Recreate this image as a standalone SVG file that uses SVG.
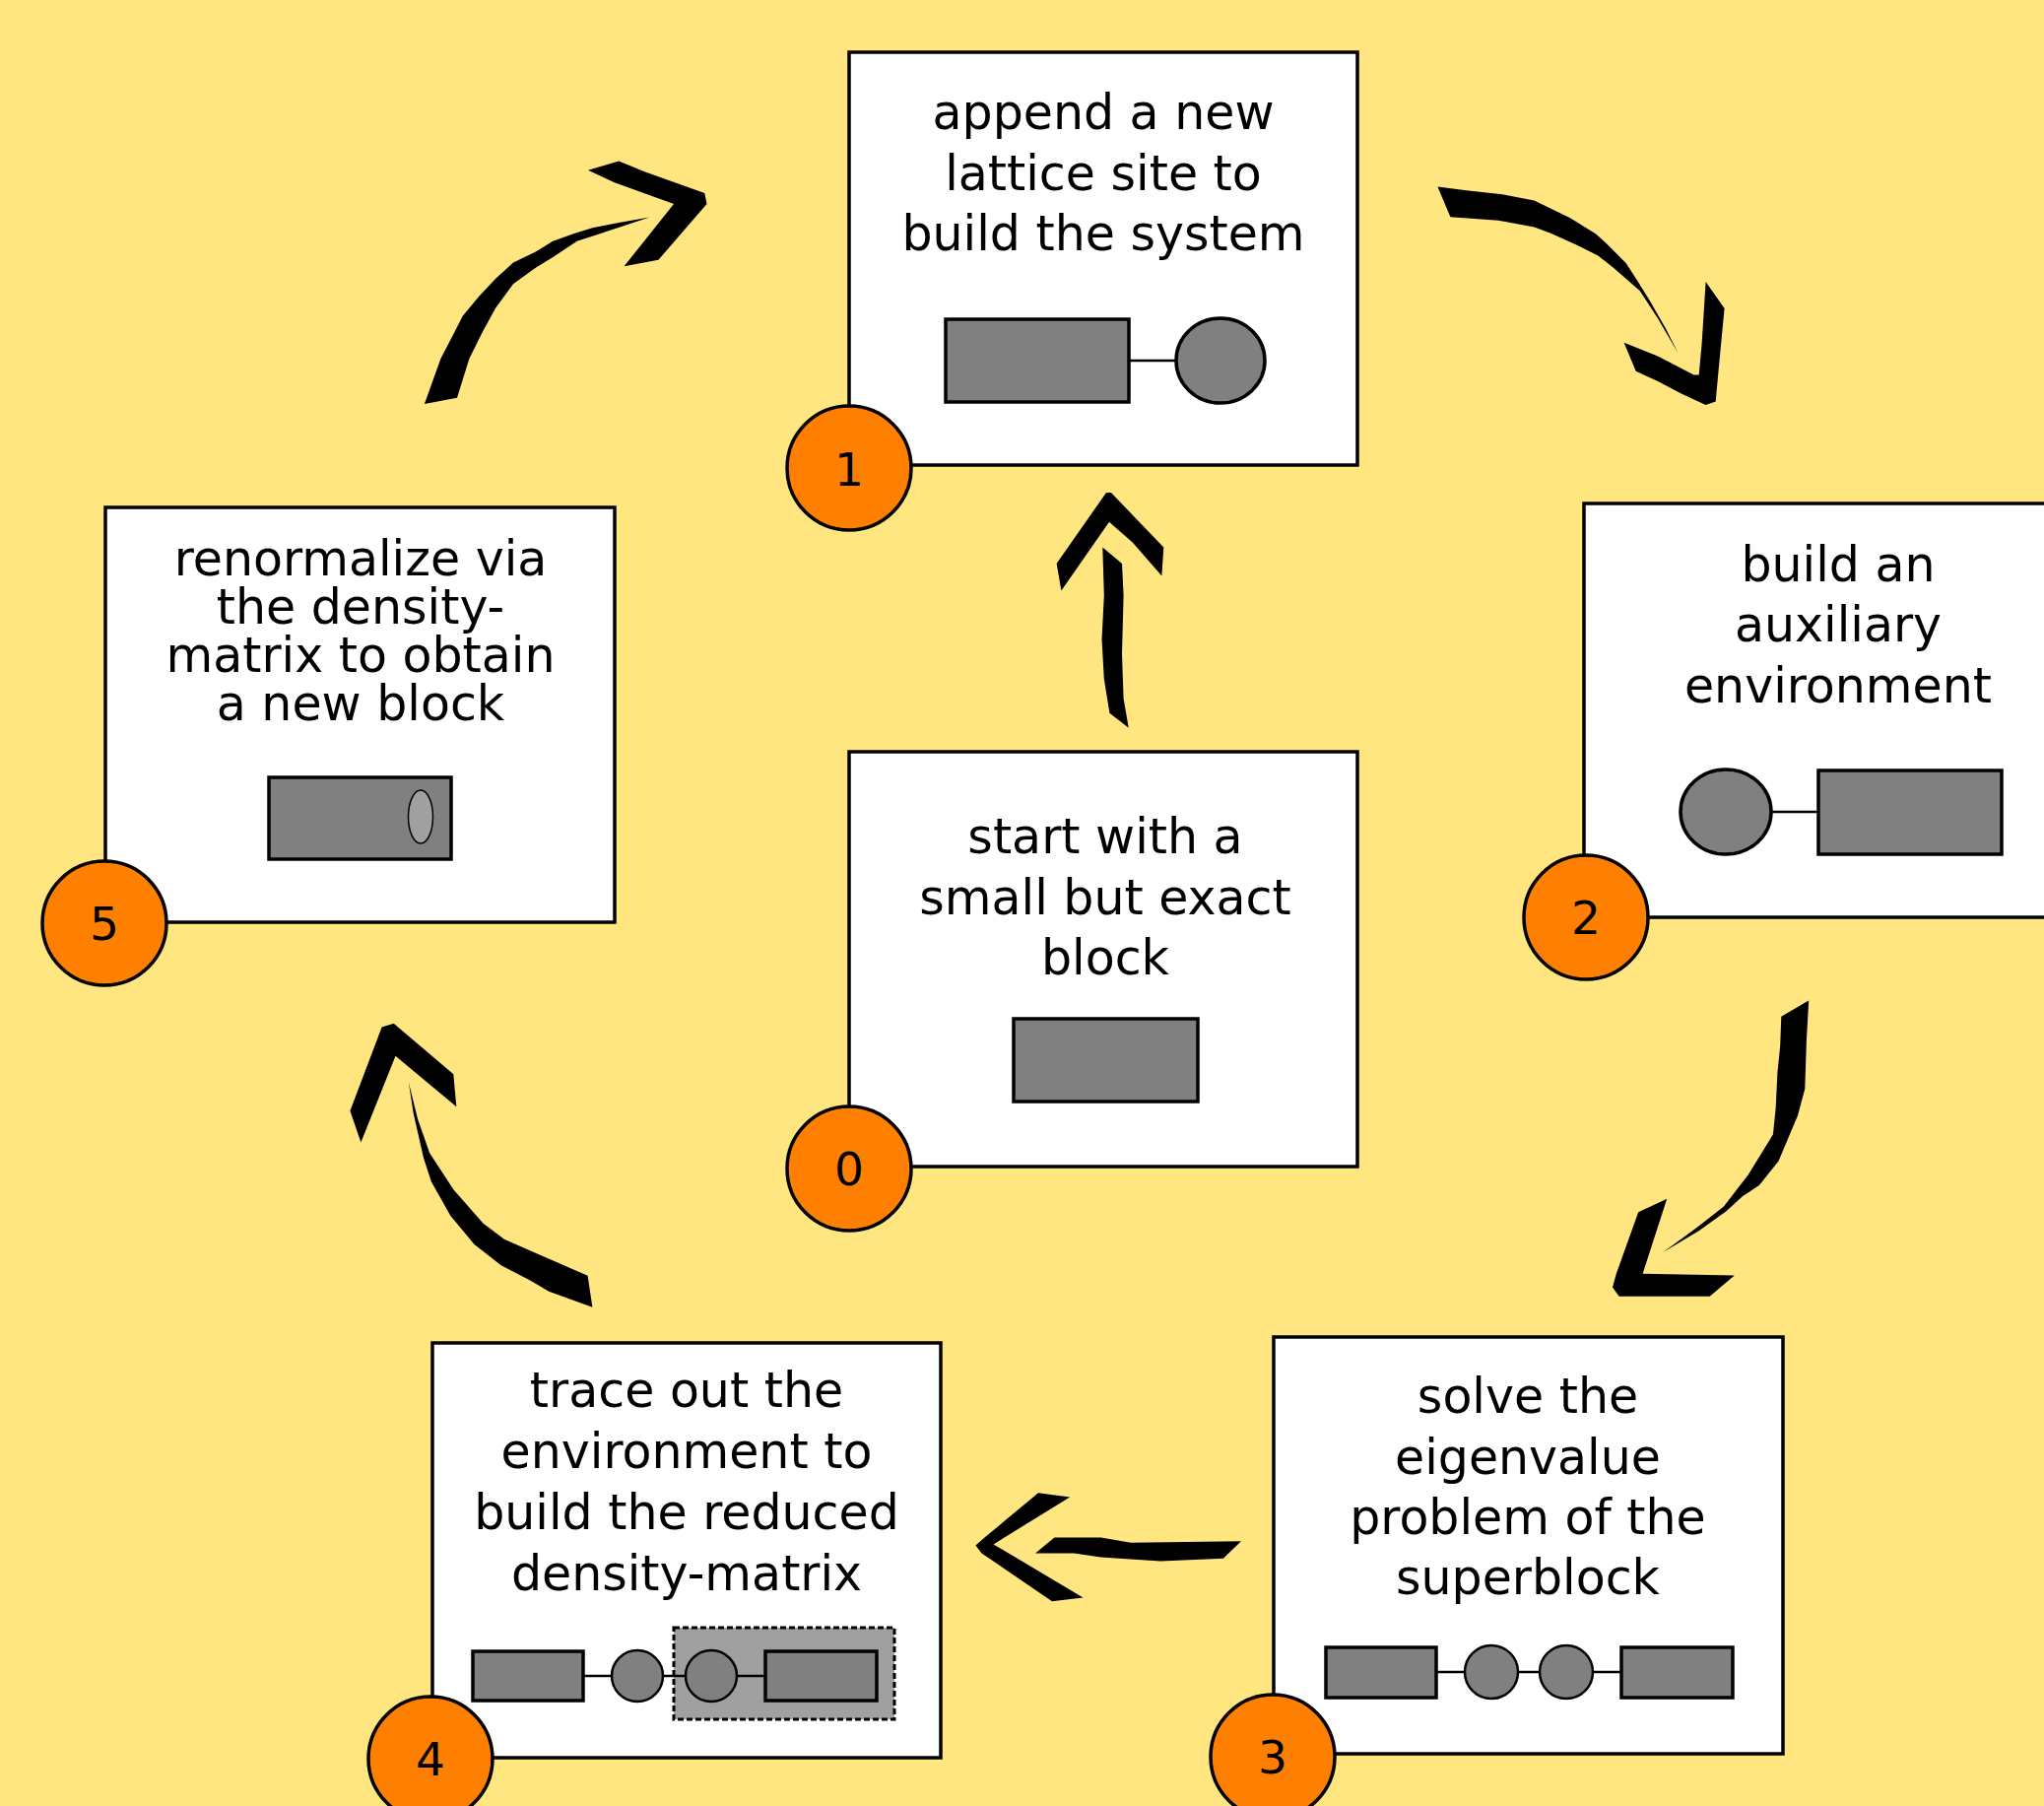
<svg xmlns="http://www.w3.org/2000/svg" width="2075" height="1833" viewBox="0 0 2075 1833">
  <defs>
    <style>
      .box { fill: #ffffff; stroke: #000000; stroke-width: 3.5; }
      .blk { fill: #808080; stroke: #000000; stroke-width: 3.5; }
      .site { fill: #808080; stroke: #000000; stroke-width: 3.5; }
      .sml { fill: #808080; stroke: #000000; stroke-width: 2.5; }
      .bond { stroke: #000000; stroke-width: 2.5; fill: none; }
      .label { font-family: "DejaVu Sans", "Liberation Sans", sans-serif; font-size: 49px; fill: #000000; text-anchor: middle; }
      .badge { fill: #ff8000; stroke: #000000; stroke-width: 3.5; }
      .num { font-family: "DejaVu Sans", "Liberation Sans", sans-serif; font-size: 47px; fill: #000000; text-anchor: middle; }
      .arrow { fill: #000000; stroke: none; }
    </style>
  </defs>

  <!-- background -->
  <rect x="0" y="0" width="2075" height="1833" fill="#ffe680"/>

  <!-- step 1: append a site -->
  <g id="step1">
    <rect class="box" x="862" y="53" width="516" height="419"/>
    <text class="label" x="1120" y="131">append a new</text>
    <text class="label" x="1120" y="193">lattice site to</text>
    <text class="label" x="1120" y="254">build the system</text>
    <line class="bond" x1="1146" y1="366" x2="1194" y2="366"/>
    <rect class="blk" x="960" y="324" width="186" height="84"/>
    <ellipse class="site" cx="1239" cy="366" rx="45" ry="43"/>
    <circle class="badge" cx="862" cy="475" r="63"/>
    <text class="num" x="862" y="493">1</text>
  </g>

  <!-- step 0: initial block -->
  <g id="step0">
    <rect class="box" x="862" y="763" width="516" height="421"/>
    <text class="label" x="1122" y="866">start with a</text>
    <text class="label" x="1122" y="928">small but exact</text>
    <text class="label" x="1122" y="989">block</text>
    <rect class="blk" x="1029" y="1034" width="187" height="84"/>
    <circle class="badge" cx="862" cy="1186" r="63"/>
    <text class="num" x="862" y="1203">0</text>
  </g>

  <!-- step 2: auxiliary environment -->
  <g id="step2">
    <rect class="box" x="1608" y="511" width="516" height="420"/>
    <text class="label" x="1866" y="590">build an</text>
    <text class="label" x="1866" y="651">auxiliary</text>
    <text class="label" x="1866" y="713">environment</text>
    <line class="bond" x1="1798" y1="824" x2="1846" y2="824"/>
    <ellipse class="site" cx="1752" cy="824" rx="46" ry="43"/>
    <rect class="blk" x="1846" y="782" width="186" height="85"/>
    <circle class="badge" cx="1610" cy="931" r="63"/>
    <text class="num" x="1610" y="948">2</text>
  </g>

  <!-- step 3: superblock eigenproblem -->
  <g id="step3">
    <rect class="box" x="1293" y="1357" width="517" height="423"/>
    <text class="label" x="1551" y="1434">solve the</text>
    <text class="label" x="1551" y="1496">eigenvalue</text>
    <text class="label" x="1551" y="1557">problem of the</text>
    <text class="label" x="1551" y="1618">superblock</text>
    <line class="bond" x1="1458" y1="1697" x2="1646" y2="1697"/>
    <rect class="blk" x="1346" y="1672" width="112" height="51"/>
    <circle class="sml" cx="1514" cy="1697" r="27"/>
    <circle class="sml" cx="1590" cy="1697" r="27"/>
    <rect class="blk" x="1646" y="1672" width="113" height="51"/>
    <circle class="badge" cx="1292" cy="1783" r="63"/>
    <text class="num" x="1292" y="1800">3</text>
  </g>

  <!-- step 4: reduced density matrix -->
  <g id="step4">
    <rect class="box" x="439" y="1363" width="516" height="421"/>
    <text class="label" x="697" y="1428">trace out the</text>
    <text class="label" x="697" y="1490">environment to</text>
    <text class="label" x="697" y="1552">build the reduced</text>
    <text class="label" x="697" y="1614">density-matrix</text>
    <rect x="684" y="1652" width="224" height="93" fill="#a0a0a0" stroke="#000000" stroke-width="3" stroke-dasharray="6,3"/>
    <line class="bond" x1="592" y1="1701" x2="777" y2="1701"/>
    <rect class="blk" x="480" y="1676" width="112" height="50"/>
    <circle class="sml" cx="647" cy="1701" r="26"/>
    <circle class="sml" cx="722" cy="1701" r="26"/>
    <rect class="blk" x="777" y="1676" width="113" height="50"/>
    <circle class="badge" cx="437" cy="1785" r="63"/>
    <text class="num" x="437" y="1802">4</text>
  </g>

  <!-- step 5: renormalize -->
  <g id="step5">
    <rect class="box" x="107" y="515" width="517" height="421"/>
    <text class="label" x="366" y="584">renormalize via</text>
    <text class="label" x="366" y="633">the density-</text>
    <text class="label" x="366" y="682">matrix to obtain</text>
    <text class="label" x="366" y="731">a new block</text>
    <rect class="blk" x="273" y="789" width="185" height="83"/>
    <ellipse cx="427" cy="829" rx="12.5" ry="27" fill="#a0a0a0" stroke="#000000" stroke-width="1.5"/>
    <circle class="badge" cx="106" cy="937" r="63"/>
    <text class="num" x="106" y="954">5</text>
  </g>

  <!-- hand-drawn arrows between the steps -->
  <g id="connectors">
    <!-- 0 -> 1 -->
    <polygon class="arrow" points="1119.3,555.6 1139,572 1140.6,604.4 1139,664 1140.6,708.9 1145.8,738.7 1126.4,723.8 1120.8,689 1118.5,649 1120.8,604.4"/>
    <polygon class="arrow" points="1072.6,572 1123,500 1128,500 1151.7,524.8 1181.3,555.6 1179.4,584.5 1149.7,550.6 1126,529.8 1077.4,599.4"/>

    <!-- 1 -> 2 -->
    <polygon class="arrow" points="1459.4,189.6 1488.6,193.2 1525,197.2 1557.5,203.4 1594,221.2 1620.2,237.6 1630.4,246.7 1650.6,267 1660.7,282.4 1675,305.4 1691,333.5 1703.3,358 1683,323.3 1664.8,295.2 1638.5,272.2 1622.3,259.5 1602,249.3 1573.7,236.5 1557.5,230.4 1521,223.8 1472.4,220.2"/>
    <polygon class="arrow" points="1648.6,347.8 1683,361.5 1719.5,380.4 1724.7,380.4 1727.6,348.8 1731.6,286 1750.6,313 1743.8,384.5 1741.7,407.4 1731.6,411 1707.3,399.8 1683,387 1660.7,376.8"/>

    <!-- 2 -> 3 -->
    <polygon class="arrow" points="1808.3,1031.7 1836.2,1015.4 1833.9,1056.2 1832.3,1105.1 1825,1132.3 1805.5,1178.6 1785.9,1203 1769.2,1214 1752.5,1229.2 1724.6,1249.3 1688.3,1271 1721.8,1246.6 1749.7,1224.8 1774.8,1192.2 1799.9,1151.4 1802.7,1124.2 1804.4,1088.8 1807.2,1061.6"/>
    <polygon class="arrow" points="1663.2,1230.3 1692.2,1216.7 1667.6,1292.8 1760.8,1294.5 1735.7,1315.7 1643.6,1315.7 1637,1306.4 1640.8,1292.8"/>

    <!-- 3 -> 4 -->
    <polygon class="arrow" points="1051,1576.4 1070.4,1560.5 1117.6,1560.5 1148,1565.8 1260,1564.2 1241.8,1581.7 1178.2,1584.4 1117.6,1580.6 1090.4,1576.4"/>
    <polygon class="arrow" points="999.5,1560.5 1054,1515.3 1086.1,1519.5 1008.6,1567.4 1099.5,1621.5 1068,1625.3 996.5,1576.4 990.4,1568.4"/>

    <!-- 4 -> 5 -->
    <polygon class="arrow" points="414.8,1098.3 424,1135.5 436,1170 460.3,1207.2 490.6,1241.7 511.8,1257.7 542,1271 596.6,1294.8 601.4,1326.7 557.2,1310.8 539,1300 508.7,1284.2 481.5,1263 457.2,1233.7 437.8,1199.2 430,1175.3 419.7,1130"/>
    <polygon class="arrow" points="355.4,1127.5 387.6,1042.5 399.7,1038.8 460.3,1090.3 463.3,1123.2 401.5,1071.7 366.4,1159.4"/>

    <!-- 5 -> 1 -->
    <polygon class="arrow" points="430.9,410 464,403.7 476.4,364 489.8,337 503.2,312.6 521,288.2 543.4,272 561.3,261 585.8,244.8 610.4,236.7 659.5,220.5 628.2,225.9 601.4,231.3 583.6,236.7 561.3,244.8 543.4,255.7 521,266.5 503.2,282.8 485.4,301.8 469.7,320.7 458.6,342.4 447.4,364"/>
    <polygon class="arrow" points="597,172.8 628.2,163.5 655,174.4 715.3,196 717.5,207 668.4,263.8 633.6,270.3 684,206.9 623.8,185.2"/>
  </g>
</svg>
